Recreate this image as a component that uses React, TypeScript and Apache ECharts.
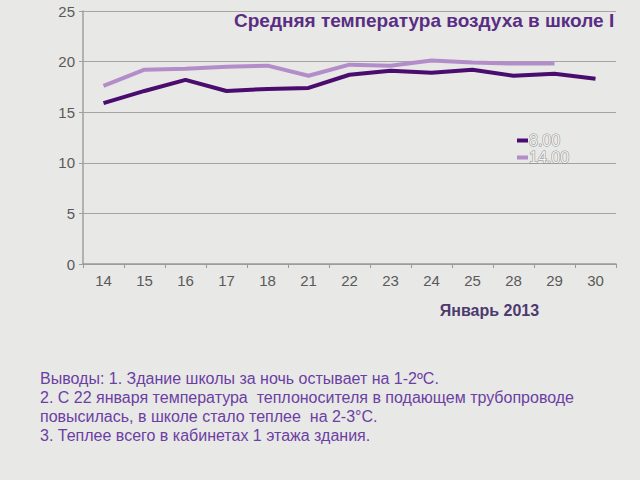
import React, { useEffect, useRef } from "react";
import * as echarts from "echarts";

const days = ["14", "15", "16", "17", "18", "21", "22", "23", "24", "25", "28", "29", "30"];
const morning = [15.9, 17.1, 18.2, 17.1, 17.3, 17.4, 18.7, 19.1, 18.9, 19.2, 18.6, 18.8, 18.3];
const afternoon = [17.6, 19.2, 19.3, 19.5, 19.6, 18.6, 19.7, 19.6, 20.1, 19.9, 19.8, 19.8, null];
const seriesNames = ["8.00", "14.00"];
const chartTitle = "Средняя температура воздуха в школе I";
const axisTitle = "Январь 2013";
const conclusions = [
  "Выводы: 1. Здание школы за ночь остывает на 1-2ºС.",
  "2. С 22 января температура  теплоносителя в подающем трубопроводе",
  "повысилась, в школе стало теплее  на 2-3°С.",
  "3. Теплее всего в кабинетах 1 этажа здания.",
];

const FONT = "'Liberation Sans', Arial, sans-serif";

export default function App() {
  const ref = useRef<HTMLDivElement>(null);
  useEffect(() => {
    if (!ref.current) return;
    const chart = echarts.init(ref.current, undefined, { renderer: "svg" });
    chart.setOption({
      animation: false,
      backgroundColor: "#e8e8e6",
      title: {
        text: chartTitle,
        left: 229,
        top: 6,
        textStyle: { fontFamily: FONT, fontSize: 19, fontWeight: "bold", color: "#5a2d84" },
      },
      legend: {
        orient: "vertical",
        left: 512,
        top: 127,
        itemGap: 0,
        itemWidth: 11,
        itemHeight: 4,
        icon: "rect",
        data: seriesNames,
        textStyle: {
          fontFamily: FONT,
          fontSize: 16,
          color: "#f2f2f2",
          textBorderColor: "#8a8a8a",
          textBorderWidth: 1,
          padding: [0, 0, 0, -4],
        },
      },
      grid: { left: 83, top: 11, right: 24, bottom: 216, containLabel: false },
      xAxis: {
        type: "category",
        data: days,
        boundaryGap: true,
        name: axisTitle,
        nameLocation: "middle",
        nameGap: 38,
        nameTextStyle: {
          fontFamily: FONT,
          fontSize: 16,
          fontWeight: "bold",
          color: "#4d3a6e",
          padding: [0, 0, 0, 280],
        },
        axisLine: { lineStyle: { color: "#9a9a9a", width: 1.5 } },
        axisTick: { show: true, length: 4, lineStyle: { color: "#9a9a9a" } },
        axisLabel: { fontFamily: FONT, fontSize: 15, color: "#5a5a5a", margin: 9 },
      },
      yAxis: {
        type: "value",
        min: 0,
        max: 25,
        interval: 5,
        axisLine: { show: true, lineStyle: { color: "#a0a0a0", width: 1.5 } },
        axisTick: { show: true, length: 4, lineStyle: { color: "#a0a0a0" } },
        axisLabel: { fontFamily: FONT, fontSize: 15, color: "#5a5a5a", margin: 8 },
        splitLine: { lineStyle: { color: "#a4a4a4", width: 1 } },
      },
      series: [
        {
          name: seriesNames[0],
          type: "line",
          data: morning,
          symbol: "none",
          lineStyle: { color: "#4a0c6e", width: 4 },
          itemStyle: { color: "#4a0c6e" },
        },
        {
          name: seriesNames[1],
          type: "line",
          data: afternoon,
          symbol: "none",
          lineStyle: { color: "#b38dc9", width: 4 },
          itemStyle: { color: "#b38dc9" },
        },
      ],
      graphic: [
        {
          type: "text",
          left: 40,
          top: 369,
          style: {
            text: conclusions.join("\n"),
            fontFamily: FONT,
            fontSize: 16,
            lineHeight: 19,
            fill: "#6b3fa3",
          },
        },
      ],
    });
    return () => chart.dispose();
  }, []);
  return <div ref={ref} style={{ width: 640, height: 480, position: "absolute", left: 0, top: 0 }} />;
}
